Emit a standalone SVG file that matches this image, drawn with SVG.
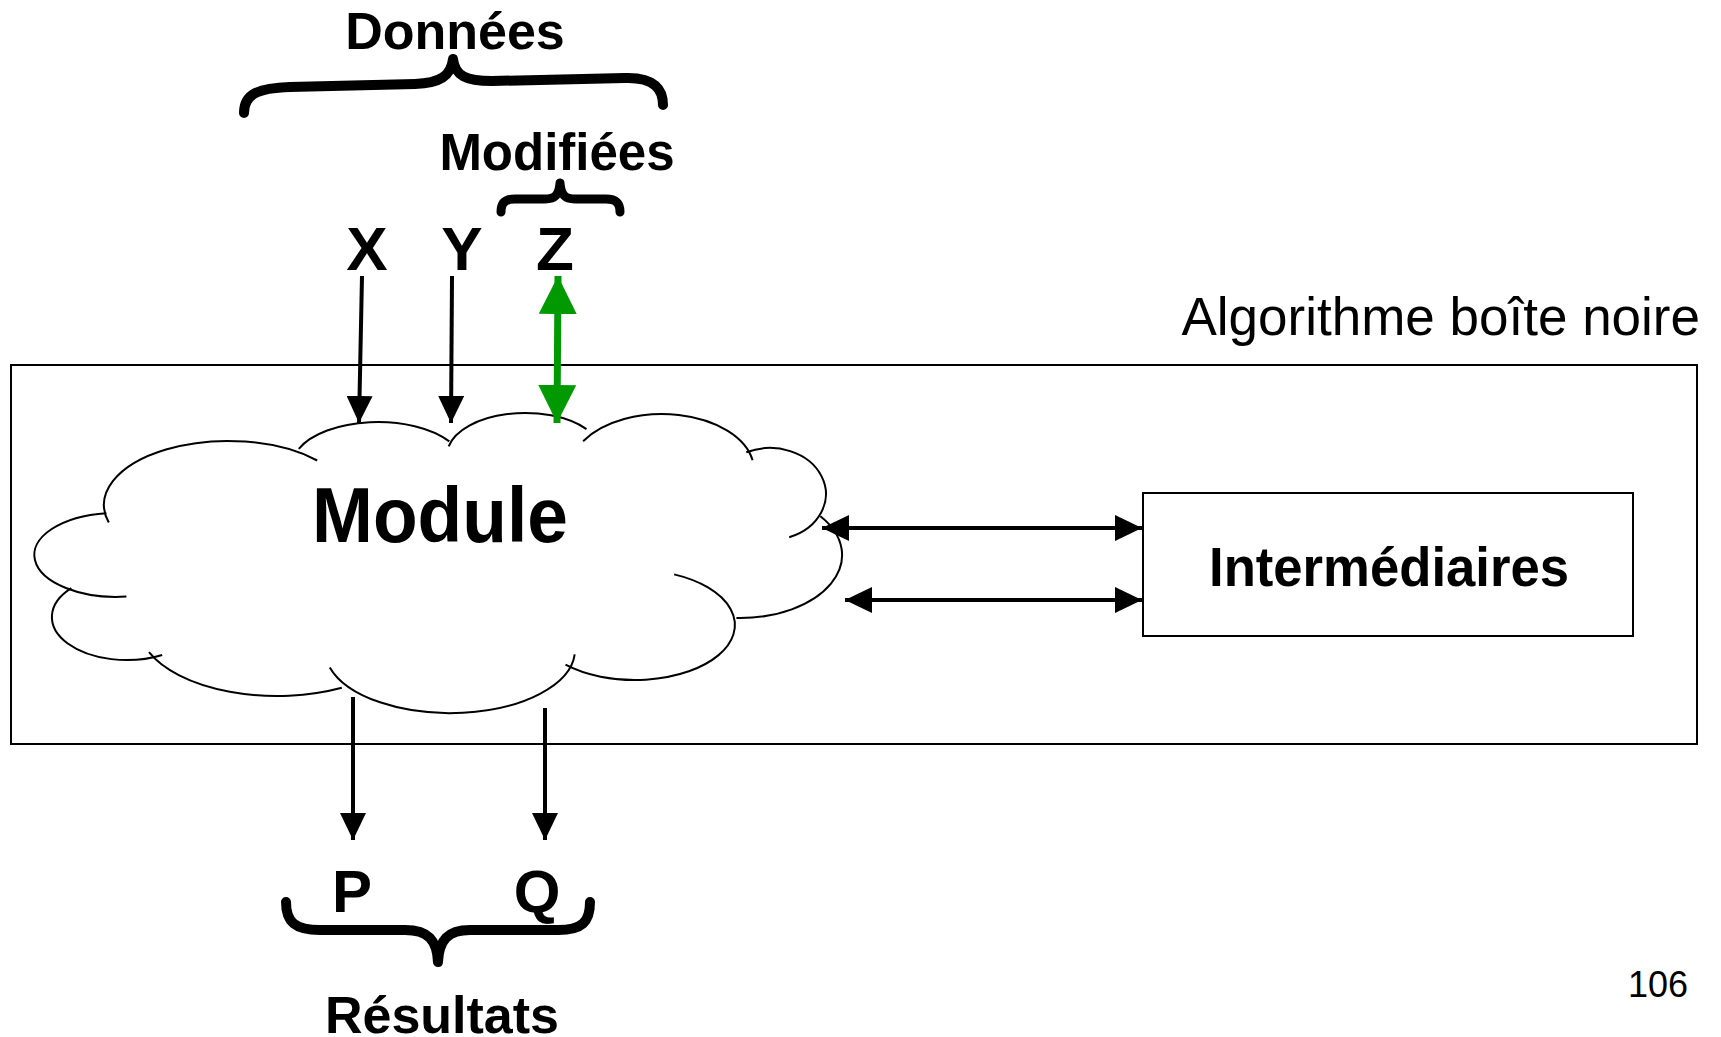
<svg xmlns="http://www.w3.org/2000/svg" width="1721" height="1037" viewBox="0 0 1721 1037">
  <style>
    .bold { font-family: "Liberation Sans", Arial, sans-serif; font-weight: bold; fill: #000; }
    .reg { font-family: "Liberation Sans", Arial, sans-serif; fill: #000; }
    .brace { fill: none; stroke: #000; stroke-linecap: round; stroke-linejoin: round; }
    .lobe { fill: none; stroke: #000; stroke-width: 2; }
    .wire { stroke: #000; stroke-width: 4; fill: none; }
    .green { stroke: #009900; stroke-width: 7; fill: none; }
  </style>
  <defs>
    <marker id="head" viewBox="0 0 27 26" refX="27" refY="13" markerWidth="27" markerHeight="26" markerUnits="userSpaceOnUse" orient="auto-start-reverse">
      <path d="M0 0 L27 13 L0 26 Z" fill="#000"/>
    </marker>
    <marker id="headGreen" viewBox="0 0 38 38" refX="38" refY="19" markerWidth="38" markerHeight="38" markerUnits="userSpaceOnUse" orient="auto-start-reverse">
      <path d="M0 0 L38 19 L0 38 Z" fill="#009900"/>
    </marker>
  </defs>

  <rect width="1721" height="1037" fill="#fff"/>

  <!-- black box enclosing the algorithm -->
  <g id="black-box">
    <rect x="11" y="365" width="1686" height="379" fill="#fff" stroke="#000" stroke-width="2"/>
    <text class="reg" x="1700" y="335" font-size="53" text-anchor="end">Algorithme boîte noire</text>
  </g>

  <!-- cloud-shaped module: white body, then the lobe arcs on top -->
  <g id="module">
    <path fill="#fff" stroke="none" d="M108.8 522.6 A124 64 0 0 1 317.2 460.5 L298.8 448.8 A86 44 0 0 1 449.3 441.4 L448.7 446.3 A78 42 0 0 1 586.5 429.1 L583.1 441.2 A92 56 0 0 1 752.6 460.3 L746.3 452.3 A56 46 0 1 1 789.2 537.2 L820.4 516.2 A102 63 0 0 1 736.4 618 L674.1 574.4 A100 55 0 1 1 565.5 664.6 L574.7 654.4 A125 63 0 0 1 329.8 667.4 L341.8 687.8 A138 70 0 0 1 149 652.2 L162.2 655 A75 43 0 0 1 71.3 588.2 L126.4 596.6 A82 42 0 1 1 106.4 513.2 Z"/>
    <path class="lobe" d="M108.8 522.6 A124 64 0 0 1 317.2 460.5"/>
    <path class="lobe" d="M298.8 448.8 A86 44 0 0 1 449.3 441.4"/>
    <path class="lobe" d="M448.7 446.3 A78 42 0 0 1 586.5 429.1"/>
    <path class="lobe" d="M583.1 441.2 A92 56 0 0 1 752.6 460.3"/>
    <path class="lobe" d="M746.3 452.3 A56 46 0 1 1 789.2 537.2"/>
    <path class="lobe" d="M820.4 516.2 A102 63 0 0 1 736.4 618"/>
    <path class="lobe" d="M674.1 574.4 A100 55 0 1 1 565.5 664.6"/>
    <path class="lobe" d="M574.7 654.4 A125 63 0 0 1 329.8 667.4"/>
    <path class="lobe" d="M341.8 687.8 A138 70 0 0 1 149 652.2"/>
    <path class="lobe" d="M162.2 655 A75 43 0 0 1 71.3 588.2"/>
    <path class="lobe" d="M126.4 596.6 A82 42 0 1 1 106.4 513.2"/>
    <text class="bold" x="312" y="542" font-size="78" textLength="256" lengthAdjust="spacingAndGlyphs">Module</text>
  </g>

  <g id="intermediaires">
    <rect x="1143" y="493" width="490" height="143" fill="#fff" stroke="#000" stroke-width="2"/>
    <text class="bold" x="1209" y="586" font-size="56" textLength="360" lengthAdjust="spacingAndGlyphs">Intermédiaires</text>
  </g>

  <!-- inputs, outputs and group braces -->
  <g id="inputs">
    <text class="bold" x="455" y="49" font-size="52" text-anchor="middle">Données</text>
    <path class="brace" stroke-width="10" d="M244 113 C244 95 256 88 290 87 L415 84 C440 83 451 76 453 59 C455 76 466 81 492 81 L625 78 C655 77 663 90 663 105"/>
    <text class="bold" x="557" y="170" font-size="51" text-anchor="middle">Modifiées</text>
    <path class="brace" stroke-width="9" d="M501 212 C501 203 505 199 515 199 L545 199 C555 199 559 195 560 183 C561 195 565 199 575 199 L606 199 C616 199 620 203 620 212"/>
    <text class="bold" x="367" y="270" font-size="62" text-anchor="middle">X</text>
    <text class="bold" x="462" y="270" font-size="62" text-anchor="middle">Y</text>
    <text class="bold" x="555" y="270" font-size="62" text-anchor="middle">Z</text>
  </g>

  <g id="outputs">
    <text class="bold" x="352" y="912" font-size="60" text-anchor="middle">P</text>
    <text class="bold" x="537" y="912" font-size="60" text-anchor="middle">Q</text>
    <path class="brace" stroke-width="10" d="M286 902 C286 922 295 930 320 930 L405 930 C428 930 437 940 438 962 C439 940 448 930 470 930 L558 930 C582 930 590 922 590 902"/>
    <text class="bold" x="442" y="1033" font-size="52" text-anchor="middle">Résultats</text>
  </g>

  <g id="connectors">
    <line class="wire" x1="362" y1="276" x2="359" y2="423" marker-end="url(#head)"/>
    <line class="wire" x1="452" y1="276" x2="451" y2="423" marker-end="url(#head)"/>
    <line class="green" x1="558" y1="276" x2="557" y2="423" marker-start="url(#headGreen)" marker-end="url(#headGreen)"/>
    <line class="wire" x1="353" y1="697" x2="353" y2="840" marker-end="url(#head)"/>
    <line class="wire" x1="545" y1="708" x2="545" y2="840" marker-end="url(#head)"/>
    <line class="wire" x1="822" y1="528" x2="1142" y2="528" marker-start="url(#head)" marker-end="url(#head)"/>
    <line class="wire" x1="845" y1="600" x2="1142" y2="600" marker-start="url(#head)" marker-end="url(#head)"/>
  </g>

  <text class="reg" x="1688" y="997" font-size="36" text-anchor="end">106</text>
</svg>
